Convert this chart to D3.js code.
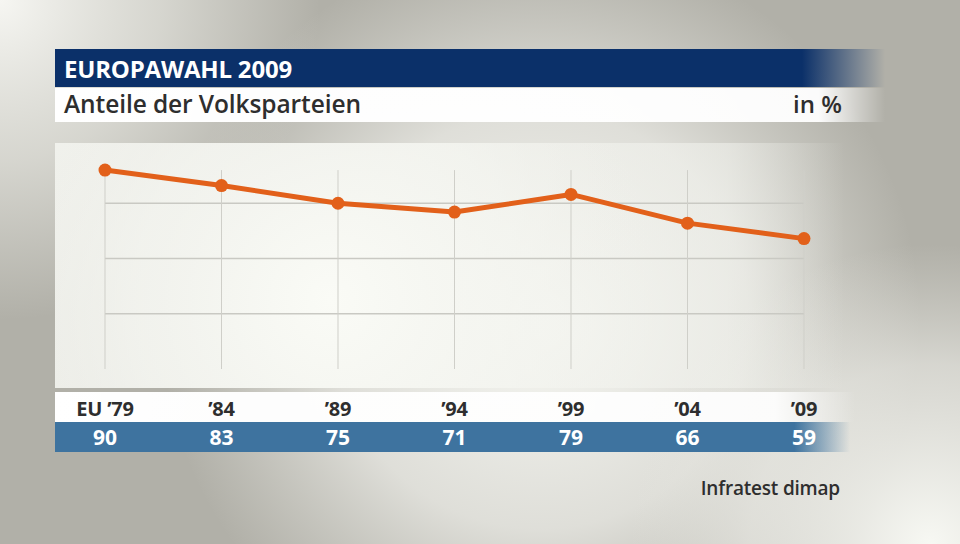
<!DOCTYPE html>
<html><head><meta charset="utf-8">
<script src="https://cdn.jsdelivr.net/npm/d3@7"></script>
<style>html,body{margin:0;padding:0;overflow:hidden;background:#b2b1a9}</style>
</head><body>
<script>
const categories = ["EU \u201979", "\u201984", "\u201989", "\u201994", "\u201999", "\u201904", "\u201909"];
const values = [90, 83, 75, 71, 79, 66, 59];
const gridTicks = [25, 50, 75];
const title = "EUROPAWAHL 2009";
const subtitle = "Anteile der Volksparteien";
const unit = "in %";
const source = "Infratest dimap";

const W = 960, H = 544;
const svg = d3.select("body").append("svg").attr("width", W).attr("height", H);
const defs = svg.append("defs");

function lin(id, x1, y1, x2, y2, stops) {
  const g = defs.append("linearGradient").attr("id", id)
    .attr("x1", x1).attr("y1", y1).attr("x2", x2).attr("y2", y2);
  stops.forEach(s => g.append("stop").attr("offset", s[0]).attr("stop-color", s[1]).attr("stop-opacity", s[2] == null ? 1 : s[2]));
}
function rad(id, cx, cy, r, stops) {
  const g = defs.append("radialGradient").attr("id", id)
    .attr("gradientUnits", "userSpaceOnUse").attr("cx", cx).attr("cy", cy).attr("r", r);
  stops.forEach(s => g.append("stop").attr("offset", s[0]).attr("stop-color", s[1]).attr("stop-opacity", s[2]));
}

// background
svg.append("rect").attr("width", W).attr("height", H).attr("fill", "#b1b0a8");
rad("bgTL", 0, 0, 320, [[0, "#f6f6f2", 1], [0.5, "#e6e6e0", 0.7], [1, "#e6e6e0", 0]]);
rad("bgC", 540, 320, 380, [[0, "#f7f8f3", 1], [0.55, "#eeeee9", 0.75], [1, "#e6e6e0", 0]]);
rad("bgBR", 930, 544, 300, [[0, "#f7f8f3", 1], [0.6, "#efefea", 0.6], [1, "#e6e6e0", 0]]);
svg.append("rect").attr("width", W).attr("height", H).attr("fill", "url(#bgC)");
svg.append("rect").attr("width", W).attr("height", H).attr("fill", "url(#bgTL)");
svg.append("rect").attr("width", W).attr("height", H).attr("fill", "url(#bgBR)");

// chart panel
lin("panelFade", 0, 0, 1, 0, [[0, "#f3f4ef", 0.9], [0.85, "#f3f4ef", 0.55], [1, "#f3f4ef", 0]]);
rad("panelGlow", 330, 300, 330, [[0, "#fafbf6", 1], [0.6, "#f4f5f0", 0.7], [1, "#f0f0eb", 0]]);
svg.append("rect").attr("x", 55).attr("y", 143).attr("width", 790).attr("height", 245).attr("fill", "url(#panelFade)");
svg.append("rect").attr("x", 55).attr("y", 143).attr("width", 790).attr("height", 245).attr("fill", "url(#panelGlow)");

// title bar
lin("titleFade", 0, 0, 1, 0, [[0, "#0b3069"], [0.9, "#0b3069"], [1, "#0b3069", 0]]);
svg.append("rect").attr("x", 55).attr("y", 49).attr("width", 830).attr("height", 38).attr("fill", "url(#titleFade)");
lin("whiteFade", 0, 0, 1, 0, [[0, "#ffffff"], [0.92, "#ffffff", 0.95], [1, "#ffffff", 0]]);
svg.append("rect").attr("x", 55).attr("y", 88).attr("width", 830).attr("height", 34).attr("fill", "url(#whiteFade)");

svg.append("text").attr("x", 64).attr("y", 78).text(title)
  .attr("font-family", "'Open Sans'").attr("font-weight", 700).attr("font-size", 24)
  .attr("fill", "#ffffff").attr("letter-spacing", -0.2);
svg.append("text").attr("x", 64).attr("y", 113).text(subtitle)
  .attr("font-family", "'Open Sans'").attr("font-weight", 600).attr("font-size", 24.5)
  .attr("fill", "#2e2e2e").attr("letter-spacing", -0.1);
svg.append("text").attr("x", 842).attr("y", 113).attr("text-anchor", "end").text(unit)
  .attr("font-family", "'Open Sans'").attr("font-weight", 600).attr("font-size", 24)
  .attr("fill", "#2e2e2e");

// scales
const x = d3.scalePoint().domain(categories).range([105, 804]);
const y = d3.scaleLinear().domain([0, 100]).range([369, 148]);

// grid
const grid = svg.append("g");
grid.selectAll("line.h").data(gridTicks).join("line")
  .attr("x1", x(categories[0])).attr("x2", x(categories[categories.length - 1]))
  .attr("y1", d => y(d)).attr("y2", d => y(d))
  .attr("stroke", "#c9c9c3").attr("stroke-width", 1.5);
grid.selectAll("line.v").data(categories).join("line")
  .attr("x1", d => x(d)).attr("x2", d => x(d))
  .attr("y1", y(d3.max(values))).attr("y2", y(0))
  .attr("stroke", "#cfcfc9").attr("stroke-width", 1);

// line
const line = d3.line().x((d, i) => x(categories[i])).y(d => y(d));
svg.append("path").datum(values).attr("d", line)
  .attr("fill", "none").attr("stroke", "#e2601a").attr("stroke-width", 5).attr("stroke-linejoin", "round");
svg.selectAll("circle.dot").data(values).join("circle")
  .attr("cx", (d, i) => x(categories[i])).attr("cy", d => y(d)).attr("r", 6.5)
  .attr("fill", "#e2601a");

// label band
lin("labelFade", 0, 0, 1, 0, [[0, "#ffffff"], [0.9, "#ffffff", 0.9], [1, "#ffffff", 0]]);
svg.append("rect").attr("x", 55).attr("y", 392).attr("width", 800).attr("height", 30).attr("fill", "url(#labelFade)");
lin("valueFade", 0, 0, 1, 0, [[0, "#3e739f"], [0.93, "#3e739f"], [1, "#3e739f", 0]]);
svg.append("rect").attr("x", 55).attr("y", 422).attr("width", 795).attr("height", 30).attr("fill", "url(#valueFade)");

svg.selectAll("text.cat").data(categories).join("text")
  .attr("x", d => x(d)).attr("y", 416).attr("text-anchor", "middle").text(d => d)
  .attr("font-family", "'Open Sans'").attr("font-weight", 700).attr("font-size", 20)
  .attr("fill", "#2e2e2e").attr("letter-spacing", -0.2);
svg.selectAll("text.val").data(values).join("text")
  .attr("x", (d, i) => x(categories[i])).attr("y", 445).attr("text-anchor", "middle").text(d => d)
  .attr("font-family", "'Open Sans'").attr("font-weight", 700).attr("font-size", 21)
  .attr("fill", "#ffffff");

svg.append("text").attr("x", 840).attr("y", 495).attr("text-anchor", "end").text(source)
  .attr("font-family", "'Open Sans'").attr("font-weight", 600).attr("font-size", 19)
  .attr("fill", "#2e2e2e").attr("letter-spacing", -0.2);
</script>
</body></html>
